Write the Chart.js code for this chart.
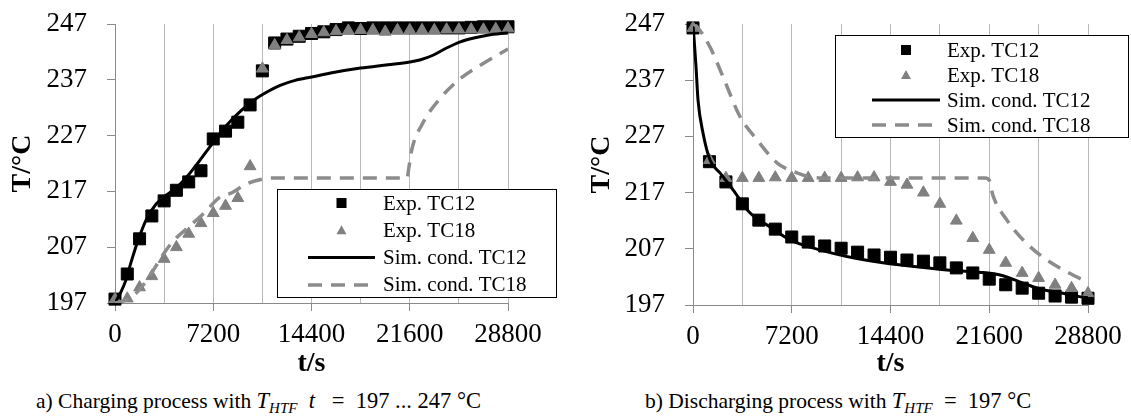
<!doctype html>
<html lang="en">
  <head>
    <meta charset="utf-8">
    <script src="https://cdn.jsdelivr.net/npm/chart.js@4.4.1/dist/chart.umd.min.js"></script>
    <style>
      body { margin: 0; background: #fff; width: 1131px; height: 417px; position: relative; overflow: hidden; }
      canvas { position: absolute; top: 0; }
      .cap { position: absolute; top: 388px; font-family: 'Liberation Serif', serif; font-size: 21.5px; white-space: nowrap; color: #000; }
      .cap .m { font-size: 22.5px; }
      .cap i { font-style: italic; }
      .cap sub { font-size: 15px; font-style: italic; vertical-align: -5px; line-height: 0; }
    </style>
  </head>
  <body>
    <canvas id="charge" width="565" height="385" style="left:0"></canvas>
    <canvas id="discharge" width="566" height="385" style="left:565px"></canvas>
    <div class="cap" style="left:36px">a) Charging process with <span class="m"><i>T</i><sub>HTF</sub>&nbsp;&nbsp;<i>t</i>&nbsp;&nbsp; = &nbsp;197&nbsp;...&nbsp;247&nbsp;°C</span></div>
    <div class="cap" style="left:645px">b) Discharging process with <span class="m"><i>T</i><sub>HTF</sub>&nbsp; = &nbsp;197&nbsp;°C</span></div>
    <script>
      // charging, measured every 15 min
      const chargeTime = [0, 900, 1800, 2700, 3600, 4500, 5400, 6300, 7200, 8100, 9000, 9900, 10800,
        11700, 12600, 13500, 14400, 15300, 16200, 17100, 18000, 18900, 19800, 20700, 21600,
        22500, 23400, 24300, 25200, 26100, 27000, 27900, 28800];
      const chargeExp12 = [197.7, 202.2, 208.5, 212.6, 215.3, 217.2, 218.7, 220.7, 226.4, 227.8, 229.4, 232.5, 238.6,
        243.6, 244.3, 244.8, 245.3, 245.6, 246.0, 246.3, 246.2, 246.3, 246.3, 246.3, 246.3,
        246.3, 246.3, 246.3, 246.3, 246.4, 246.5, 246.5, 246.5];
      const chargeExp18 = [197.7, 197.8, 199.8, 201.8, 204.9, 207.0, 209.4, 211.3, 213.1, 214.4, 215.8, 221.5, 239.0,
        243.2, 244.1, 244.6, 245.2, 245.5, 245.7, 245.8, 245.9, 245.9, 245.6, 245.9, 245.9,
        245.9, 245.9, 246.0, 246.0, 246.0, 246.0, 246.1, 246.2];
      const chargeSim12 = [[0, 197.0], [400, 198.8], [800, 201.1], [1200, 204.5], [1700, 208.3], [2300, 212.0],
        [3000, 214.7], [3800, 216.4], [4600, 217.9], [5400, 220.0], [6200, 222.5], [7200, 225.8], [8200, 228.9],
        [9200, 231.4], [10200, 233.4], [11200, 234.9], [12100, 236.0], [13200, 236.9], [14400, 237.5],
        [16000, 238.3], [18000, 239.1], [20000, 239.7], [21600, 240.2], [22400, 240.6], [23300, 241.4],
        [24300, 242.7], [25300, 243.8], [26300, 244.5], [27300, 245.0], [28800, 245.4]];
      const chargeSim18 = [[0, 197.0], [1200, 198.0], [2350, 201.1], [3500, 205.6], [4300, 208.2], [5200, 210.2],
        [6600, 213.3], [7600, 215.8], [8600, 216.8], [9600, 218.3], [10600, 219.1], [11700, 219.4],
        [21400, 219.4], [21550, 221.5], [21750, 224.5], [22500, 229.0], [23700, 233.3], [25200, 237.0],
        [27100, 240.1], [28800, 242.5]];

      // discharging, measured every 20 min
      const dischargeTime = [0, 1200, 2400, 3600, 4800, 6000, 7200, 8400, 9600, 10800, 12000, 13200, 14400,
        15600, 16800, 18000, 19200, 20400, 21600, 22800, 24000, 25200, 26400, 27600, 28800];
      const dischargeExp12 = [246.3, 222.5, 218.9, 215.0, 212.1, 210.5, 209.1, 208.2, 207.5, 207.1, 206.4, 205.9, 205.5,
        205.0, 204.8, 204.5, 203.6, 202.7, 201.6, 200.6, 200.0, 199.1, 198.6, 198.4, 198.2];
      const dischargeExp18 = [246.3, 222.8, 219.6, 219.6, 219.6, 219.7, 219.6, 219.6, 219.6, 219.6, 219.7, 219.7, 218.9,
        218.4, 217.0, 215.0, 212.0, 208.9, 206.8, 204.5, 202.7, 201.8, 200.6, 200.0, 199.1];
      const dischargeSim12 = [[0, 247.0], [220, 239.4], [365, 233.5], [730, 227.6], [1240, 222.8], [1970, 220.5],
        [2920, 217.5], [4150, 213.4], [5610, 210.9], [7070, 208.6], [9260, 206.8], [11660, 205.4], [13850, 204.5],
        [16330, 203.8], [18740, 203.2], [21000, 202.8], [21800, 202.6], [22600, 202.2], [24060, 200.9],
        [25520, 199.7], [26970, 199.1], [28430, 198.4], [28800, 198.3]];
      const dischargeSim18 = [[0, 247.0], [300, 246.5], [1240, 242.9], [2190, 237.6], [3430, 230.5], [4670, 226.4],
        [6120, 222.3], [7580, 220.5], [8530, 219.8], [10000, 219.6], [21300, 219.6], [21600, 219.2],
        [21870, 216.5], [22890, 212.1], [24060, 208.6], [25520, 205.5], [27260, 202.9], [28430, 201.5],
        [28800, 201.2]];

      const seriesLabels = ['Exp. TC12', 'Exp. TC18', 'Sim. cond. TC12', 'Sim. cond. TC18'];
      const tTicks = { min: 0, max: 28800, step: 3600, labelStep: 7200 };
      const tempTicks = { min: 197, max: 247, step: 10 };

      Chart.defaults.font.family = "'Liberation Serif', 'Times New Roman', serif";
      Chart.defaults.color = '#000';

      const AXIS = '#8a8a8a';
      const GRID = '#b8b8b8';

      // legend drawn as a framed box inside the plot, like the office chart
      const boxLegend = {
        id: 'boxLegend',
        afterDraw(chart, args, o) {
          const ctx = chart.ctx;
          ctx.save();
          ctx.fillStyle = '#fff';
          ctx.fillRect(o.x, o.y, o.w, o.h);
          ctx.strokeStyle = '#000';
          ctx.lineWidth = 1;
          ctx.strokeRect(o.x + 0.5, o.y + 0.5, o.w, o.h);
          ctx.font = "21px 'Liberation Serif', serif";
          ctx.textBaseline = 'middle';
          chart.data.datasets.forEach((ds, i) => {
            const cy = o.y + o.first + i * o.row;
            const x0 = o.x + o.sample[0], x1 = o.x + o.sample[1];
            const cx = (x0 + x1) / 2;
            if (ds.showLine) {
              ctx.strokeStyle = ds.borderColor;
              ctx.lineWidth = ds.borderWidth;
              ctx.setLineDash(ds.borderDash || []);
              ctx.beginPath();
              ctx.moveTo(x0, cy);
              ctx.lineTo(x1, cy);
              ctx.stroke();
              ctx.setLineDash([]);
            } else {
              ctx.fillStyle = ds.backgroundColor;
              if (ds.pointStyle === 'rect') {
                ctx.fillRect(cx - 5, cy - 5, 10, 10);
              } else {
                ctx.beginPath();
                ctx.moveTo(cx, cy - 5);
                ctx.lineTo(cx + 5, cy + 4);
                ctx.lineTo(cx - 5, cy + 4);
                ctx.closePath();
                ctx.fill();
              }
            }
            ctx.fillStyle = '#000';
            ctx.fillText(ds.label, o.x + o.text, cy + 1);
          });
          ctx.restore();
        }
      };

      function pairs(times, values) {
        return times.map((t, i) => ({ x: t, y: values[i] }));
      }
      function curve(list) {
        return list.map(p => ({ x: p[0], y: p[1] }));
      }

      function makeChart(id, exp12, exp18, sim12, sim18, times, box, yTitlePad, yWidth, padRight, xHeight) {
        return new Chart(document.getElementById(id), {
          type: 'scatter',
          data: {
            datasets: [
              { label: seriesLabels[0], data: pairs(times, exp12), pointStyle: 'rect', pointRadius: 8.5,
                backgroundColor: '#000', borderColor: '#000', borderWidth: 1, order: 3, clip: false },
              { label: seriesLabels[1], data: pairs(times, exp18), pointStyle: 'triangle', pointRadius: 6.8,
                backgroundColor: '#808080', borderColor: '#808080', borderWidth: 1, order: 2, clip: false },
              { label: seriesLabels[2], data: curve(sim12), showLine: true, pointRadius: 0,
                borderColor: '#000', borderWidth: 3, cubicInterpolationMode: 'monotone', order: 1 },
              { label: seriesLabels[3], data: curve(sim18), showLine: true, pointRadius: 0,
                borderColor: '#8c8c8c', borderWidth: 3.5, borderDash: [14, 9], cubicInterpolationMode: 'monotone', order: 0 }
            ]
          },
          plugins: [boxLegend],
          options: {
            responsive: false,
            animation: false,
            devicePixelRatio: 1,
            layout: { padding: { left: 0, right: padRight, top: 24, bottom: 0 } },
            plugins: {
              legend: { display: false },
              tooltip: { enabled: false },
              boxLegend: box
            },
            scales: {
              x: {
                type: 'linear',
                min: tTicks.min, max: tTicks.max,
                ticks: {
                  stepSize: tTicks.step, autoSkip: false, maxRotation: 0, padding: 8,
                  font: { size: 27 }, color: '#000',
                  callback: v => (v % tTicks.labelStep === 0 ? String(v) : '')
                },
                grid: {
                  color: GRID, lineWidth: 1, tickLength: 8,
                  tickColor: c => (c.tick && c.tick.value % tTicks.labelStep === 0 ? AXIS : 'rgba(0,0,0,0)')
                },
                border: { color: AXIS, width: 1 },
                title: { display: true, text: 't/s', color: '#000',
                  font: { size: 28, weight: 'bold' }, padding: { top: 0, bottom: 4 } },
                afterFit: s => { s.height = xHeight; }
              },
              y: {
                min: tempTicks.min, max: tempTicks.max,
                ticks: { stepSize: tempTicks.step, padding: 20, font: { size: 27, lineHeight: 0.25 }, color: '#000' },
                grid: { drawOnChartArea: false, tickLength: 8, tickColor: AXIS },
                border: { color: AXIS, width: 1 },
                title: { display: true, text: 'T/°C', color: '#000',
                  font: { size: 28, weight: 'bold' }, padding: { top: yTitlePad, bottom: 0 } },
                afterFit: s => { s.width = yWidth; }
              }
            }
          }
        });
      }

      makeChart('charge', chargeExp12, chargeExp18, chargeSim12, chargeSim18, chargeTime,
        { x: 277, y: 189, w: 279, h: 108, first: 14, row: 27.3, sample: [31, 98], text: 106 }, 6, 115, 57, 82);
      makeChart('discharge', dischargeExp12, dischargeExp18, dischargeSim12, dischargeSim18, dischargeTime,
        { x: 270, y: 35, w: 293, h: 102, first: 15, row: 25, sample: [37, 105], text: 112 }, 20, 128, 43, 80);
    </script>
  </body>
</html>
